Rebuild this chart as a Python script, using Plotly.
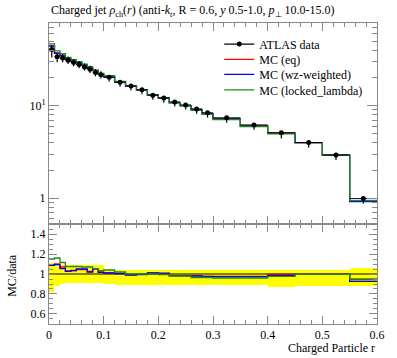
import plotly.graph_objects as go

# ---- data ----
edges = [0.0, 0.01, 0.02, 0.03, 0.04, 0.05, 0.06, 0.07, 0.08, 0.09, 0.10,
         0.12, 0.14, 0.16, 0.18, 0.20, 0.22, 0.24, 0.26, 0.28, 0.30,
         0.35, 0.40, 0.45, 0.50, 0.55, 0.60]
data_vals = [40.6, 33.8, 32.9, 31.1, 29.3, 27.9, 26.3, 24.8, 22.9, 21.7,
             20.3, 18.0, 16.4, 14.9, 13.0, 12.1, 11.0, 10.2, 9.25, 8.4,
             7.4, 6.2, 5.1, 4.0, 2.93, 0.99]
# relative data uncertainties (up / down)
err_up_rel = [0.11, 0.10, 0.093, 0.09, 0.09, 0.09, 0.09, 0.09, 0.09, 0.09,
              0.045, 0.045, 0.045, 0.045, 0.045, 0.045, 0.045, 0.045, 0.045, 0.045,
              0.045, 0.045, 0.045, 0.045, 0.045, 0.06]
err_dn_rel = [0.18, 0.124, 0.10, 0.09, 0.09, 0.09, 0.09, 0.09, 0.09, 0.09,
              0.10, 0.107, 0.107, 0.107, 0.107, 0.107, 0.107, 0.107, 0.114, 0.114,
              0.114, 0.114, 0.134, 0.117, 0.117, 0.117]
# MC / data ratios
ratio_eq = [1.093, 1.10, 1.07, 1.03, 1.035, 1.045, 1.045, 1.025, 1.05, 1.02,
            1.012, 1.005, 0.992, 0.997, 1.01, 1.008, 0.985, 0.985, 0.982, 0.977,
            0.975, 0.975, 0.996, 0.998, 0.998, 0.943]
ratio_wz = [1.086, 1.093, 1.053, 1.026, 1.033, 1.05, 1.05, 1.02, 1.053, 1.016,
            1.01, 1.003, 0.99, 0.995, 1.01, 1.005, 0.983, 0.983, 0.98, 0.975,
            0.973, 0.973, 0.986, 0.996, 0.996, 0.926]
ratio_ll = [1.15, 1.16, 1.115, 1.075, 1.075, 1.075, 1.07, 1.07, 1.053, 1.033,
            1.04, 1.02, 1.0, 1.0, 1.0, 0.995, 0.98, 0.98, 0.965, 0.965,
            0.96, 0.96, 0.976, 0.996, 0.996, 0.95]

series = [("MC (eq)", ratio_eq, "#ff0000"),
          ("MC (wz-weighted)", ratio_wz, "#0000ff"),
          ("MC (locked_lambda)", ratio_ll, "#1a8c1a")]

centers = [(a + b) / 2 for a, b in zip(edges[:-1], edges[1:])]
widths = [b - a for a, b in zip(edges[:-1], edges[1:])]
halfw = [w / 2 for w in widths]

FONT = "Liberation Serif"
fig = go.Figure()

# ---- ratio panel: data band ----
fig.add_trace(go.Bar(
    x=centers, y=[u + d for u, d in zip(err_up_rel, err_dn_rel)],
    base=[1 - d for d in err_dn_rel], width=widths,
    marker=dict(color="#ffff00", line=dict(width=0)),
    xaxis="x2", yaxis="y2", showlegend=False, hoverinfo="skip"))
fig.add_trace(go.Scatter(
    x=edges, y=[1.0] * len(edges), mode="lines", line=dict(color="black", width=1),
    line_shape="hv", xaxis="x2", yaxis="y2", showlegend=False))

for name, r, col in series:
    fig.add_trace(go.Scatter(
        x=edges, y=r + [r[-1]], mode="lines", line=dict(color=col, width=1.3),
        line_shape="hv", xaxis="x2", yaxis="y2", showlegend=False))

# ---- main panel ----
for name, r, col in series:
    mc = [d * q for d, q in zip(data_vals, r)]
    fig.add_trace(go.Scatter(
        x=edges, y=mc + [mc[-1]], mode="lines", line=dict(color=col, width=1.3),
        line_shape="hv", xaxis="x", yaxis="y", showlegend=False))

fig.add_trace(go.Scatter(
    x=centers, y=data_vals, mode="markers",
    marker=dict(color="black", size=5),
    error_y=dict(type="data", symmetric=False,
                 array=[v * u for v, u in zip(data_vals, err_up_rel)],
                 arrayminus=[v * d for v, d in zip(data_vals, err_dn_rel)],
                 color="black", thickness=1.2, width=0),
    error_x=dict(type="data", array=halfw, color="black", thickness=1, width=0),
    xaxis="x", yaxis="y", showlegend=False))

# legend entries, one legend box per entry for tight spacing
legend_names = ["legend", "legend2", "legend3", "legend4"]
fig.add_trace(go.Scatter(x=[None], y=[None], mode="lines+markers", name="ATLAS data",
                         line=dict(color="black", width=1.3),
                         marker=dict(color="black", size=5), legend="legend"))
for (name, r, col), lg in zip(series, legend_names[1:]):
    fig.add_trace(go.Scatter(x=[None], y=[None], mode="lines", name=name,
                             line=dict(color=col, width=1.3), legend=lg))

axcol = "#888888"
common_x = dict(range=[0, 0.6], showgrid=False, zeroline=False, showline=True,
                linecolor=axcol, linewidth=1, mirror="allticks", ticks="inside",
                ticklen=8, tickcolor=axcol,
                minor=dict(ticks="inside", ticklen=4, dtick=0.02, tick0=0, tickcolor=axcol))

legend_y = [0.930, 0.879, 0.829, 0.778]
legends = {}
for lg, yy in zip(legend_names, legend_y):
    legends[lg] = dict(x=0.519, y=yy, xanchor="left", yanchor="middle",
                       bgcolor="rgba(0,0,0,0)", font=dict(family=FONT, size=12),
                       itemwidth=30)

fig.update_layout(
    width=397, height=358,
    margin=dict(l=49, r=13, t=23, b=34),
    paper_bgcolor="white", plot_bgcolor="white",
    font=dict(family=FONT, size=12, color="black"),
    xaxis=dict(domain=[0, 1], anchor="y", showticklabels=False, dtick=0.1, tick0=0, **common_x),
    xaxis2=dict(domain=[0, 1], anchor="y2", showticklabels=True,
                tickvals=[0, 0.1, 0.2, 0.3, 0.4, 0.5, 0.6],
                ticktext=["0", "0.1", "0.2", "0.3", "0.4", "0.5", "0.6"], **common_x),
    yaxis=dict(domain=[0.3322, 1], anchor="x", type="log", range=[-0.279, 1.895],
               showgrid=False, zeroline=False, showline=True, linecolor=axcol,
               mirror="allticks", ticks="inside", ticklen=10, tickcolor=axcol,
               tickvals=[1, 10], ticktext=["1", "10<sup>1</sup>"],
               minor=dict(ticks="inside", ticklen=5, tickcolor=axcol,
                          tickvals=[0.6, 0.7, 0.8, 0.9, 2, 3, 4, 5, 6, 7, 8, 9,
                                    20, 30, 40, 50, 60, 70])),
    yaxis2=dict(domain=[0, 0.3322], anchor="x2", range=[0.5, 1.5],
                showgrid=False, zeroline=False, showline=True, linecolor=axcol,
                mirror="allticks", ticks="inside", ticklen=8, tickcolor=axcol,
                tickvals=[0.6, 0.8, 1.0, 1.2, 1.4], ticktext=["0.6", "0.8", "1", "1.2", "1.4"],
                minor=dict(ticks="inside", ticklen=4, dtick=0.05, tick0=0.5, tickcolor=axcol)),
    showlegend=True,
    bargap=0,
    annotations=[
        dict(text="Charged jet <i>ρ</i><sub>ch</sub>(<i>r</i>) (anti-<i>k</i><sub><i>t</i></sub>, R = 0.6, <i>y</i> 0.5-1.0, <i>p</i><sub>⊥</sub> 10.0-15.0)",
             x=0, y=1.04, xref="paper", yref="paper", xanchor="left", yanchor="middle",
             showarrow=False, font=dict(family=FONT, size=12)),
        dict(text="Charged Particle r", x=1, y=-0.08, xref="paper", yref="paper",
             xanchor="right", yanchor="middle", showarrow=False,
             font=dict(family=FONT, size=12)),
        dict(text="MC/data", x=-0.113, y=0.163, xref="paper", yref="paper",
             xanchor="center", yanchor="middle", textangle=-90, showarrow=False,
             font=dict(family=FONT, size=12)),
    ],
    **legends,
)

fig.write_html("out.html", config={"displayModeBar": False},
               post_script="document.body.style.margin='0';document.body.style.padding='0';")
